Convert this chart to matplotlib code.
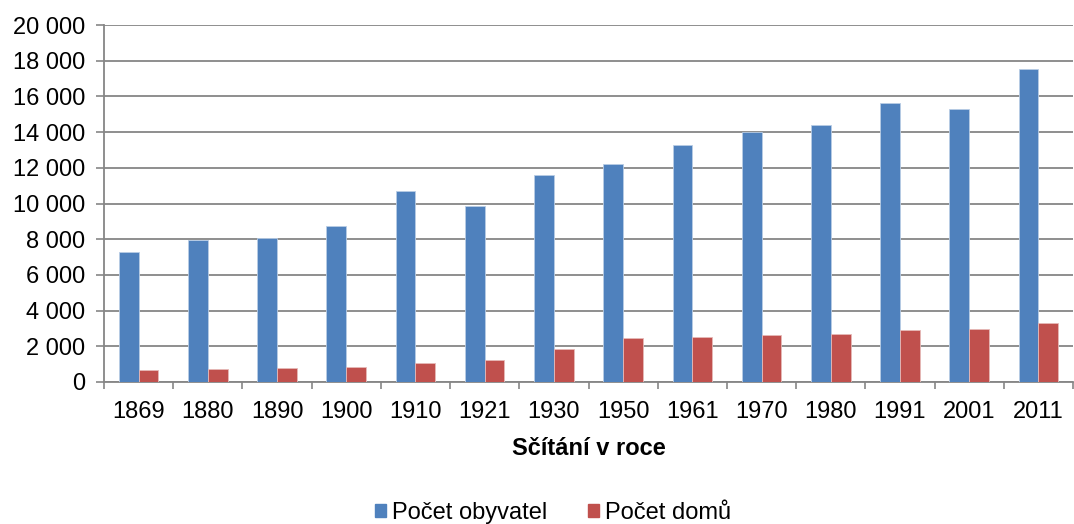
import matplotlib
matplotlib.use("Agg")
import matplotlib.pyplot as plt
import numpy as np
from matplotlib.patches import Patch

years = ["1869", "1880", "1890", "1900", "1910", "1921", "1930", "1950",
         "1961", "1970", "1980", "1991", "2001", "2011"]
obyvatel = [7280, 7940, 8070, 8750, 10680, 9860, 11620, 12230,
            13300, 14000, 14400, 15650, 15320, 17560]
domu = [655, 710, 770, 860, 1090, 1230, 1830, 2450,
        2520, 2650, 2710, 2900, 2950, 3330]
yticks = list(range(0, 20001, 2000))

plt.rcParams['font.family'] = ['Liberation Sans', 'DejaVu Sans']

fig = plt.figure(figsize=(10.74, 5.24), dpi=100)
ax = fig.add_axes([104/1074, 1-382/524, 1-104/1074 - 1/1074, 357/524])

blue = "#4F81BD"
red = "#C0504D"
grid = "#868686"
fs = 17

x = np.arange(len(years))
w = 1/3.5
ax.bar(x - w/2, obyvatel, width=w, color=blue, edgecolor="#b9cde5", linewidth=0.6, zorder=3)
ax.bar(x + w/2, domu, width=w, color=red, edgecolor="#e6b9b8", linewidth=0.6, zorder=3)

ax.set_xlim(-0.5, len(years) - 0.5)
ax.set_ylim(0, 20000)
ax.set_yticks(yticks)
ax.set_yticklabels([f"{v:,}".replace(",", " ") for v in yticks], fontsize=fs)
ax.set_xticks(x)
ax.set_xticklabels(years, fontsize=fs)
ax.set_xticks(np.arange(len(years) + 1) - 0.5, minor=True)
ax.tick_params(axis='x', which='major', length=0, pad=14)
ax.tick_params(axis='x', which='minor', length=5, color=grid, width=1.2)
ax.tick_params(axis='y', length=5.5, color=grid, width=1.2, pad=8)

ax.yaxis.grid(True, color=grid, linewidth=1.3, zorder=0)
ax.set_axisbelow(True)
for s in ["top", "right"]:
    ax.spines[s].set_visible(False)
for s in ["left", "bottom"]:
    ax.spines[s].set_color(grid)
    ax.spines[s].set_linewidth(1.3)

ax.set_xlabel("Sčítání v roce", fontsize=fs, fontweight="bold", labelpad=10)

handles = [Patch(color=blue, label="Počet obyvatel"), Patch(color=red, label="Počet domů")]
fig.legend(handles=handles, loc="center", bbox_to_anchor=(553/1074, 1-513/524),
           ncol=2, frameon=False, fontsize=fs, handlelength=0.5, handleheight=0.5,
           handletextpad=0.25, columnspacing=1.7, borderpad=0)

fig.savefig("out.png", dpi=100)
